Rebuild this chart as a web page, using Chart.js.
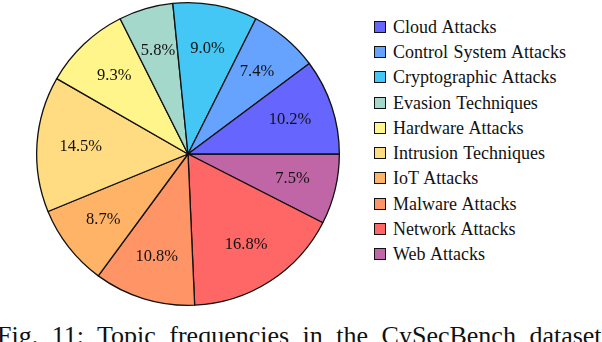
<!DOCTYPE html>
<html>
<head>
<meta charset="utf-8">
<script src="https://cdn.jsdelivr.net/npm/chart.js@4.4.0/dist/chart.umd.min.js"></script>
<style>
  html, body { margin: 0; padding: 0; background: #fff; }
  body { width: 602px; height: 342px; position: relative; overflow: hidden; font-family: "Liberation Serif", Tinos, "Times New Roman", Times, "DejaVu Serif", serif; }
  .pie { position: absolute; left: 33px; top: -1px; width: 310px; height: 310px; }
  .legend { position: absolute; left: 374px; top: 14px; list-style: none; margin: 0; padding: 0; }
  .legend__item { height: 25.3px; display: flex; align-items: center; }
  .legend__box { width: 10px; height: 10px; border: 1.3px solid #111; margin-right: 7px; }
  .legend__text { font-size: 18px; line-height: 1; color: #111; word-spacing: 1px; }
  .caption { position: absolute; left: -3px; top: 323px; font-size: 26px; line-height: 1; white-space: nowrap; color: #111; word-spacing: 7px; }
</style>
</head>
<body>
<div class="pie"><canvas id="chart"></canvas></div>
<ul class="legend"></ul>
<div class="caption">Fig. 11: Topic frequencies in the CySecBench dataset</div>
<script>
// data (legend order, counterclockwise from 3 o'clock)
const topics = ["Cloud Attacks", "Control System Attacks", "Cryptographic Attacks", "Evasion Techniques",
  "Hardware Attacks", "Intrusion Techniques", "IoT Attacks", "Malware Attacks", "Network Attacks", "Web Attacks"];
const shares = [10.2, 7.4, 9.0, 5.8, 9.3, 14.5, 8.7, 10.8, 16.8, 7.5];
const colors = ["#6666FF", "#66A3FF", "#44C7F4", "#A3D8CB", "#FFF58A",
  "#FFDB82", "#FFB366", "#FF9466", "#FF6666", "#C066A6"];

const serif = '"Liberation Serif", Tinos, "Times New Roman", Times, "DejaVu Serif", serif';

// legend
const legendList = document.querySelector(".legend");
topics.forEach((name, i) => {
  legendList.innerHTML += `
    <li class="legend__item">
      <span class="legend__box" style="background:${colors[i]}"></span>
      <span class="legend__text">${name}</span>
    </li>
  `;
});

// chart.js draws clockwise, so feed it reversed
const revLabels = topics.slice().reverse();
const revData = shares.slice().reverse();
const revColors = colors.slice().reverse();

// percent labels inside slices
const sliceLabels = {
  id: "sliceLabels",
  afterDatasetsDraw(chart) {
    const ctx = chart.ctx;
    const meta = chart.getDatasetMeta(0);
    ctx.save();
    ctx.font = "16.5px " + serif;
    ctx.fillStyle = "#111";
    ctx.textAlign = "center";
    ctx.textBaseline = "middle";
    meta.data.forEach((arc, i) => {
      const p = arc.getProps(["x", "y", "startAngle", "endAngle", "outerRadius"], true);
      const mid = (p.startAngle + p.endAngle) / 2;
      const r = p.outerRadius * 0.71;
      ctx.fillText(revData[i].toFixed(1) + "%", p.x + Math.cos(mid) * r, p.y + Math.sin(mid) * r);
    });
    ctx.restore();
  }
};

const myChart = new Chart(document.getElementById("chart"), {
  type: "pie",
  data: {
    labels: revLabels,
    datasets: [{
      data: revData,
      backgroundColor: revColors,
      borderColor: "#111",
      borderWidth: 1.3,
    }],
  },
  options: {
    responsive: true,
    maintainAspectRatio: false,
    animation: false,
    rotation: 90,
    layout: { padding: 3 },
    plugins: {
      legend: { display: false },
      tooltip: { enabled: false },
    },
  },
  plugins: [sliceLabels],
});
</script>
</body>
</html>
